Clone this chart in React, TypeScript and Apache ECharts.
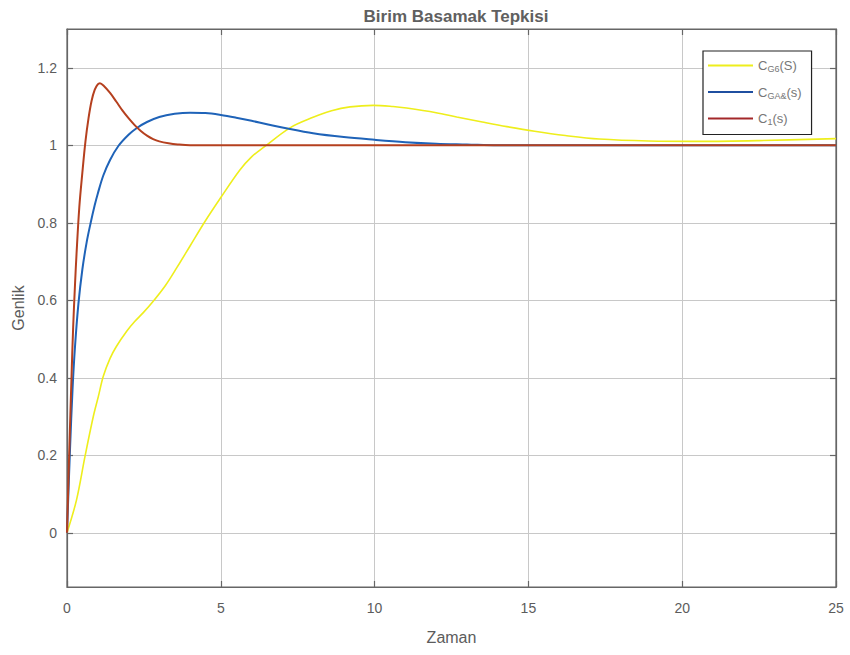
import React, { useEffect, useRef } from "react";
import * as echarts from "echarts";

// C_G6(S) – yellow
const yellowT = [0, 0.31, 0.585, 0.855, 1.02, 1.18, 1.4, 1.6, 1.94, 2.2, 2.48, 2.81, 3.2, 3.57, 4.0, 4.46, 5.0, 5.62, 6.0, 6.4, 7.25, 8.0, 8.6, 9.2, 9.96, 10.6, 11.04, 12.0, 12.67, 13.5, 14.3, 15.2, 16.2, 17.3, 18.9, 20.6, 22.5, 25];
const yellowV = [0, 0.085, 0.197, 0.3, 0.352, 0.404, 0.45, 0.48, 0.52, 0.545, 0.568, 0.598, 0.638, 0.684, 0.74, 0.8, 0.865, 0.936, 0.97, 0.995, 1.045, 1.072, 1.089, 1.099, 1.103, 1.1, 1.096, 1.084, 1.073, 1.06, 1.048, 1.036, 1.025, 1.016, 1.011, 1.01, 1.012, 1.017];

// C_GA&(s) – blue
const blueT = [0, 0.1, 0.18, 0.26, 0.37, 0.5, 0.64, 0.77, 0.9, 1.0, 1.18, 1.4, 1.67, 2.0, 2.26, 2.6, 3.0, 3.5, 4.0, 4.5, 5.0, 5.5, 6.0, 6.5, 7.0, 8.0, 9.0, 10, 11, 12, 13, 14, 25];
const blueV = [0, 0.22, 0.37, 0.48, 0.59, 0.68, 0.75, 0.8, 0.845, 0.875, 0.922, 0.962, 0.998, 1.027, 1.044, 1.06, 1.073, 1.081, 1.084, 1.083, 1.078, 1.071, 1.063, 1.054, 1.046, 1.031, 1.021, 1.014, 1.008, 1.004, 1.002, 1.0, 1.0];

// C_1(s) – red
const redT = [0, 0.07, 0.15, 0.2, 0.26, 0.31, 0.4, 0.5, 0.6, 0.7, 0.8, 0.9, 1.0, 1.07, 1.2, 1.4, 1.6, 1.8, 2.0, 2.2, 2.4, 2.6, 2.8, 3.0, 3.3, 3.6, 4.0, 5, 25];
const redV = [0, 0.2, 0.41, 0.53, 0.64, 0.72, 0.84, 0.93, 1.01, 1.07, 1.115, 1.143, 1.157, 1.16, 1.153, 1.135, 1.113, 1.09, 1.07, 1.052, 1.037, 1.025, 1.016, 1.01, 1.005, 1.002, 1.0, 1.0, 1.0];

const seriesNames = ["CG6", "CGA", "C1"];
const legendLabels: Record<string, string> = {
  CG6: "{m|C}{s|G6}{m|(S)}",
  CGA: "{m|C}{s|GA&}{m|(s)}",
  C1: "{m|C}{s|1}{m|(s)}",
};

const FONT = "Liberation Sans, Arial, Helvetica, sans-serif";
const TXT = "#5c5c5c";

const zip = (t: number[], v: number[]) => t.map((x, i) => [x, v[i]]);

export default function App() {
  const ref = useRef<HTMLDivElement>(null);
  useEffect(() => {
    if (!ref.current) return;
    const chart = echarts.init(ref.current, undefined, { renderer: "svg" });
    const axisLineStyle = { color: "#666666", width: 1.2 };
    chart.setOption({
      animation: false,
      backgroundColor: "#ffffff",
      textStyle: { fontFamily: FONT },
      title: {
        text: "Birim Basamak Tepkisi",
        left: 451,
        top: 3,
        textAlign: "center",
        textStyle: { fontFamily: FONT, fontSize: 17, fontWeight: "bold", color: "#606060" },
      },
      grid: {
        left: 67,
        top: 29,
        right: 14,
        bottom: 68,
        show: true,
        borderColor: "#666666",
        borderWidth: 1.2,
        backgroundColor: "#ffffff",
      },
      legend: {
        orient: "vertical",
        left: 703,
        top: 51,
        padding: [8, 10, 8, 5],
        itemGap: 12,
        itemWidth: 45,
        itemHeight: 2,
        icon: "rect",
        borderColor: "#222",
        borderWidth: 1.2,
        backgroundColor: "#fff",
        data: seriesNames,
        formatter: (n: string) => legendLabels[n],
        textStyle: {
          color: "#777",
          fontFamily: FONT,
          rich: {
            m: { fontSize: 13, color: "#777777", fontFamily: FONT },
            s: { fontSize: 9, color: "#777777", fontFamily: FONT, padding: [7, 0, 0, 0] },
          },
        },
      },
      xAxis: [
        {
          type: "value",
          min: 0,
          max: 25,
          interval: 5,
          name: "Zaman",
          nameLocation: "middle",
          nameGap: 42,
          nameTextStyle: { fontSize: 16, color: TXT, fontFamily: FONT },
          axisLine: { show: true, onZero: false, lineStyle: axisLineStyle },
          axisTick: { show: true, inside: true, length: 6, lineStyle: axisLineStyle },
          axisLabel: { fontSize: 14, color: TXT, margin: 14, fontFamily: FONT },
          splitLine: { show: true, lineStyle: { color: "#c8c8c8", width: 1 } },
        },
        {
          type: "value",
          position: "top",
          min: 0,
          max: 25,
          interval: 5,
          axisLine: { show: true, onZero: false, lineStyle: axisLineStyle },
          axisTick: { show: true, inside: true, length: 6, lineStyle: axisLineStyle },
          axisLabel: { show: false },
          splitLine: { show: false },
        },
      ],
      yAxis: [
        {
          type: "value",
          min: -0.14,
          max: 1.3,
          splitNumber: 7,
          name: "Genlik",
          nameLocation: "middle",
          nameRotate: 90,
          nameGap: 38,
          nameTextStyle: { fontSize: 16, color: TXT, fontFamily: FONT },
          axisLine: { show: true, onZero: false, lineStyle: axisLineStyle },
          axisTick: { show: true, inside: true, length: 6, lineStyle: axisLineStyle },
          axisLabel: {
            fontSize: 14,
            color: TXT,
            margin: 10,
            fontFamily: FONT,
            showMinLabel: false,
            showMaxLabel: false,
            formatter: (v: number) => String(Math.round(v * 10) / 10),
          },
          splitLine: { show: true, lineStyle: { color: "#c8c8c8", width: 1 } },
        },
        {
          type: "value",
          position: "right",
          min: -0.14,
          max: 1.3,
          splitNumber: 7,
          axisLine: { show: true, onZero: false, lineStyle: axisLineStyle },
          axisTick: { show: true, inside: true, length: 6, lineStyle: axisLineStyle },
          axisLabel: { show: false },
          splitLine: { show: false },
        },
      ],
      series: [
        {
          name: "CG6",
          type: "line",
          data: zip(yellowT, yellowV),
          symbol: "none",
          smooth: 0.35,
          lineStyle: { color: "#eeee1c", width: 1.6 },
          itemStyle: { color: "#eeee1c" },
        },
        {
          name: "CGA",
          type: "line",
          data: zip(blueT, blueV),
          symbol: "none",
          smooth: 0.35,
          lineStyle: { color: "#1f63b8", width: 2 },
          itemStyle: { color: "#1f4fa0" },
        },
        {
          name: "C1",
          type: "line",
          data: zip(redT, redV),
          symbol: "none",
          smooth: 0.35,
          lineStyle: { color: "#b5401f", width: 2 },
          itemStyle: { color: "#a3282a" },
        },
      ],
    });
    return () => chart.dispose();
  }, []);
  return <div ref={ref} style={{ width: 850, height: 655, position: "absolute", left: 0, top: 0 }} />;
}
